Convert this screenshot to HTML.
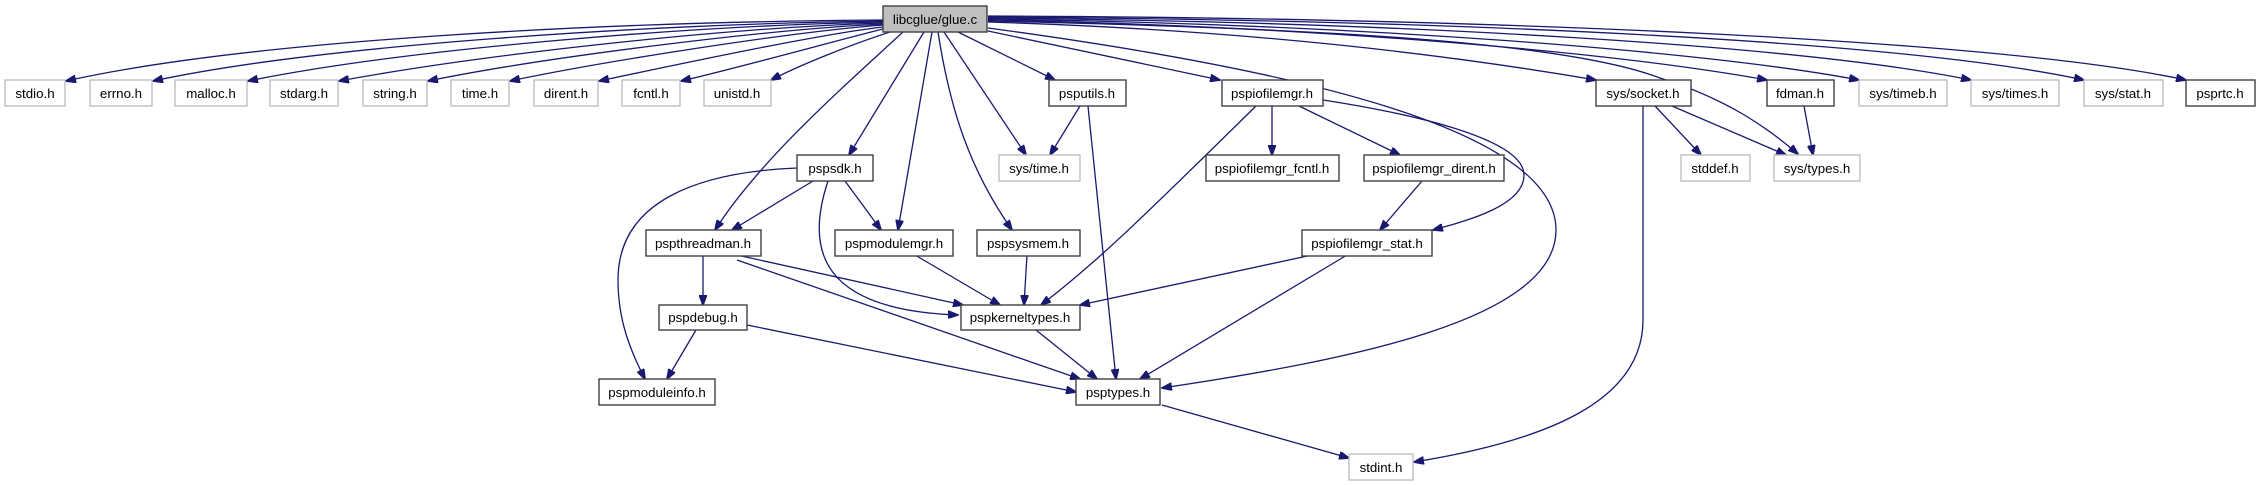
<!DOCTYPE html>
<html><head><meta charset="utf-8"><style>
html,body{margin:0;padding:0;background:#fff;}
svg{display:block;}
text{font-family:"Liberation Sans",sans-serif;font-size:13.3px;fill:#000;text-anchor:middle;}
.e{fill:none;stroke:#191970;stroke-width:1.3;}
.d{fill:#fff;stroke:#404040;stroke-width:1.4;}
.u{fill:#fff;stroke:#bfbfbf;stroke-width:1.4;}
</style></head><body>
<svg width="2260" height="485" viewBox="0 0 2260 485" xmlns="http://www.w3.org/2000/svg">
<defs>
<marker id="a" markerWidth="11" markerHeight="8" refX="10" refY="4" orient="auto" markerUnits="userSpaceOnUse">
<path d="M0,0 L11,4 L0,8 Z" fill="#191970" stroke="#191970"/>
</marker>
</defs>
<g class="e" marker-end="url(#a)">
<!-- left top row -->
<path d="M883,20 C600,22 250,40 66,81"/>
<path d="M883,21 C650,24 320,45 153,81"/>
<path d="M883,22 C680,26 400,50 248,81"/>
<path d="M883,23 C720,28 480,55 339,81"/>
<path d="M883,24 C760,30 540,58 428,81"/>
<path d="M883,25 C790,32 600,62 510,81"/>
<path d="M883,27 C820,34 670,66 599,81"/>
<path d="M883,29 C850,37 730,70 681,81"/>
<path d="M890,32 C850,45 800,65 771,80"/>
<!-- down -->
<path d="M903,32 C840,90 760,160 715,230"/>
<path d="M924,32 L849,155"/>
<path d="M932,32 L898,230"/>
<path d="M938,32 C950,110 970,170 1012,230"/>
<path d="M944,32 L1026,155"/>
<path d="M958,32 L1055,80"/>
<path d="M988,31 L1220,80"/>
<path d="M988,28 C1300,70 1556,130 1556,230 C1556,320 1350,360 1162,388"/>
<!-- right top row -->
<path d="M988,22 C1250,30 1450,55 1596,80"/>
<path d="M988,21 C1300,28 1560,40 1660,78 C1730,100 1770,130 1798,154"/>
<path d="M988,20 C1300,26 1600,50 1767,80"/>
<path d="M988,19 C1350,24 1700,50 1859,80"/>
<path d="M988,18 C1400,22 1800,45 1971,80"/>
<path d="M988,17 C1450,20 1900,40 2084,80"/>
<path d="M988,16 C1500,18 2000,40 2186,80"/>
<!-- psputils -->
<path d="M1080,106 L1050,155"/>
<path d="M1088,106 L1116,379"/>
<!-- pspiofilemgr -->
<path d="M1256,106 C1150,210 1100,260 1041,305"/>
<path d="M1272,106 L1272,155"/>
<path d="M1299,106 L1400,155"/>
<path d="M1323,100 C1420,115 1524,140 1524,175 C1524,205 1470,220 1433,230"/>
<path d="M1422,181 L1380,230"/>
<path d="M1312,255 L1080,305"/>
<path d="M1347,255 L1140,379"/>
<!-- sys/socket -->
<path d="M1655,106 L1701,155"/>
<path d="M1672,106 L1786,155"/>
<path d="M1804,106 L1813,155"/>
<path d="M1643,106 L1643,320 C1643,400 1550,440 1414,462"/>
<!-- pspsdk -->
<path d="M797,168 C700,172 618,200 618,280 C618,320 630,350 645,379"/>
<path d="M813,181 L732,230"/>
<path d="M845,181 L881,230"/>
<path d="M828,181 C805,250 820,310 958,315"/>
<!-- pspthreadman -->
<path d="M703,255 L703,305"/>
<path d="M737,255 L963,305"/>
<path d="M737,260 L1080,379"/>
<path d="M915,255 L1000,305"/>
<path d="M1027,255 L1024,305"/>
<path d="M696,330 L667,379"/>
<path d="M747,325 L1076,392"/>
<path d="M1036,330 L1097,379"/>
<path d="M1162,405 L1349,458"/>
</g>
<g>
<rect x="883" y="6" width="104" height="26" fill="#bfbfbf" stroke="#404040" stroke-width="1.4"/><text x="935" y="24">libcglue/glue.c</text>
<rect class="u" x="5" y="80" width="60" height="26"/><text x="35" y="98">stdio.h</text>
<rect class="u" x="90" y="80" width="62" height="26"/><text x="121" y="98">errno.h</text>
<rect class="u" x="175" y="80" width="72" height="26"/><text x="211" y="98">malloc.h</text>
<rect class="u" x="270" y="80" width="68" height="26"/><text x="304" y="98">stdarg.h</text>
<rect class="u" x="363" y="80" width="64" height="26"/><text x="395" y="98">string.h</text>
<rect class="u" x="451" y="80" width="58" height="26"/><text x="480" y="98">time.h</text>
<rect class="u" x="534" y="80" width="64" height="26"/><text x="566" y="98">dirent.h</text>
<rect class="u" x="622" y="80" width="58" height="26"/><text x="651" y="98">fcntl.h</text>
<rect class="u" x="704" y="80" width="67" height="26"/><text x="737" y="98">unistd.h</text>
<rect class="d" x="1049" y="80" width="77" height="26"/><text x="1087" y="98">psputils.h</text>
<rect class="d" x="1222" y="80" width="101" height="26"/><text x="1272" y="98">pspiofilemgr.h</text>
<rect class="d" x="1596" y="80" width="95" height="26"/><text x="1643" y="98">sys/socket.h</text>
<rect class="d" x="1767" y="80" width="67" height="26"/><text x="1800" y="98">fdman.h</text>
<rect class="u" x="1859" y="80" width="88" height="26"/><text x="1903" y="98">sys/timeb.h</text>
<rect class="u" x="1971" y="80" width="88" height="26"/><text x="2015" y="98">sys/times.h</text>
<rect class="u" x="2084" y="80" width="79" height="26"/><text x="2123" y="98">sys/stat.h</text>
<rect class="d" x="2186" y="80" width="69" height="26"/><text x="2220" y="98">psprtc.h</text>

<rect class="d" x="797" y="155" width="76" height="26"/><text x="835" y="173">pspsdk.h</text>
<rect class="u" x="999" y="155" width="81" height="26"/><text x="1039" y="173">sys/time.h</text>
<rect class="d" x="1206" y="155" width="133" height="26"/><text x="1272" y="173">pspiofilemgr_fcntl.h</text>
<rect class="d" x="1364" y="155" width="140" height="26"/><text x="1434" y="173">pspiofilemgr_dirent.h</text>
<rect class="u" x="1681" y="155" width="69" height="26"/><text x="1715" y="173">stddef.h</text>
<rect class="u" x="1774" y="155" width="86" height="26"/><text x="1817" y="173">sys/types.h</text>

<rect class="d" x="646" y="230" width="115" height="26"/><text x="703" y="248">pspthreadman.h</text>
<rect class="d" x="835" y="230" width="118" height="26"/><text x="894" y="248">pspmodulemgr.h</text>
<rect class="d" x="977" y="230" width="103" height="26"/><text x="1028" y="248">pspsysmem.h</text>
<rect class="d" x="1302" y="230" width="130" height="26"/><text x="1367" y="248">pspiofilemgr_stat.h</text>

<rect class="d" x="659" y="305" width="88" height="25"/><text x="703" y="322">pspdebug.h</text>
<rect class="d" x="961" y="305" width="119" height="25"/><text x="1020" y="322">pspkerneltypes.h</text>

<rect class="d" x="599" y="379" width="116" height="26"/><text x="657" y="397">pspmoduleinfo.h</text>
<rect class="d" x="1076" y="379" width="84" height="26"/><text x="1118" y="397">psptypes.h</text>

<rect class="u" x="1349" y="454" width="64" height="26"/><text x="1381" y="472">stdint.h</text>
</g>
</svg>
</body></html>
